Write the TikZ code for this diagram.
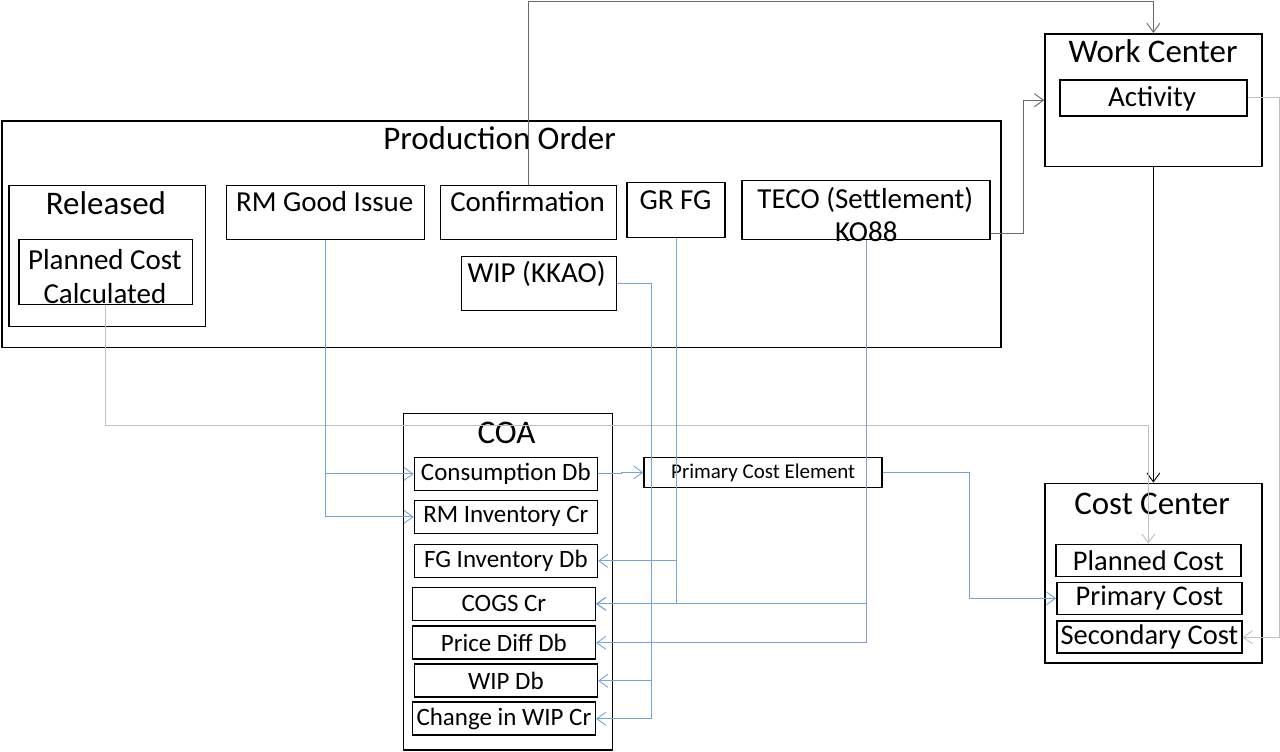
\documentclass[tikz,border=0pt]{standalone}
\usepackage{fontspec}
\setmainfont{Carlito}
\usetikzlibrary{arrows.meta}
\definecolor{flowblue}{RGB}{118,164,216}
\definecolor{flowgray}{RGB}{105,105,105}
\definecolor{flowlight}{RGB}{192,192,192}
\begin{document}
\begin{tikzpicture}[x=1pt, y=-1pt,
    box/.style={draw, line width=1.6pt, inner sep=0pt, anchor=north west},
    head/.style={anchor=base, inner sep=0pt, font=\fontsize{33}{38}\selectfont},
    lbl/.style={anchor=base, inner sep=0pt, font=\fontsize{29}{34}\selectfont},
    coaitem/.style={box, font=\fontsize{25}{30}\selectfont},
    ccitem/.style={box, font=\fontsize{28.5}{32}\selectfont},
    link/.style={line width=0.9pt, -{Straight Barb[length=9pt, width=13pt]}},
    bluelink/.style={link, draw=flowblue},
    graylink/.style={link, draw=flowgray},
    lightlink/.style={link, draw=flowlight}]
    \fill[white] (0,0) rectangle (1280,752);
    \node[box, minimum width=1000pt, minimum height=227pt] (prod) at (1,120) {};
    \node[head] (prodtitle) at (500,150) {Production Order};
    \node[box, minimum width=197pt, minimum height=141pt] (rel) at (8,185) {};
    \node[head] (reltitle) at (106,215) {Released};
    \node[box, minimum width=174pt, minimum height=65pt] (pcc) at (18,239) {};
    \node[lbl, anchor=center, align=center] (pcctext) at (105,277) {Planned Cost\\Calculated};
    \node[box, minimum width=198pt, minimum height=54pt] (rmgi) at (226,185) {};
    \node[lbl] (rmgitext) at (325,212) {RM Good Issue};
    \node[box, minimum width=176pt, minimum height=54pt] (conf) at (440,185) {};
    \node[lbl] (conftext) at (528,212) {Confirmation};
    \node[box, minimum width=98pt, minimum height=55pt] (grfg) at (627,182) {};
    \node[lbl] (grfgtext) at (676,210) {GR FG};
    \node[box, minimum width=248pt, minimum height=59pt] (teco) at (742,180) {};
    \node[lbl] (tecotext) at (866,209) {TECO (Settlement)};
    \node[lbl] (kotext) at (867,242) {KO88};
    \node[box, minimum width=155pt, minimum height=54pt] (wip) at (461,256) {};
    \node[lbl] (wiptext) at (537,283) {WIP (KKAO)};

    \node[box, minimum width=217pt, minimum height=133pt] (wc) at (1045,33) {};
    \node[head] (wctitle) at (1154,63) {Work Center};
    \node[box, minimum width=187pt, minimum height=36pt] (act) at (1060,79) {};
    \node[lbl] (acttext) at (1153,107) {Activity};

    \node[box, minimum width=217pt, minimum height=180pt] (cc) at (1045,483) {};
    \node[head] (cctitle) at (1153,515) {Cost Center};
    \foreach \nm/\xl/\yt/\txt in {plcost/1056/544/Planned Cost, prcost/1057/582/Primary Cost, seccost/1057/621/Secondary Cost}
        \node[ccitem, minimum width=185pt, minimum height=32pt] (\nm) at (\xl,\yt) {\txt};

    \node[box, minimum width=209pt, minimum height=337pt] (coa) at (403,413) {};
    \node[head] (coatitle) at (507,444) {COA};
    \foreach \nm/\xl/\yt/\txt in {cons/414/457/Consumption Db, rminv/414/500/RM Inventory Cr, fginv/414/544/FG Inventory Db, cogs/412/587/COGS Cr, pdiff/412/626/Price Diff Db, wipdb/414/664/WIP Db, chwip/412/702/Change in WIP Cr}
        \node[coaitem, minimum width=183pt, minimum height=33pt] (\nm) at (\xl,\yt) {\txt};
    \node[box, minimum width=238pt, minimum height=30pt, font=\fontsize{21}{25}\selectfont] (pce) at (644,457) {Primary Cost Element};

    \draw[graylink] (conf.north) -- ++(0,-184) -| (wc.north);
    \draw[graylink] ([yshift=-23.5pt]teco.east) -- ++(33,0) |- (wc.west);
    \draw[lightlink] (act.east) -- ++(32,0) |- (seccost.east);
    \draw[link, draw=black] (wc.south) -- (cc.north);
    \draw[lightlink] (pcc.south) -- ++(0,120) -| (plcost.north);
    \draw[bluelink] (rmgi.south) |- (cons.west);
    \draw[bluelink] (rmgi.south) |- (rminv.west);
    \draw[bluelink] (cons.east) -- ++(23,0) |- (pce.west);
    \draw[bluelink] (pce.east) -- ++(87,0) |- (prcost.west);
    \draw[bluelink] (grfg.south) |- (fginv.east);
    \draw[bluelink] (grfg.south) |- (cogs.east);
    \draw[bluelink] (teco.south) |- (cogs.east);
    \draw[bluelink] (teco.south) |- (pdiff.east);
    \draw[bluelink] (wip.east) -- ++(34,0) |- (wipdb.east);
    \draw[bluelink] (wip.east) -- ++(34,0) |- (chwip.east);
\end{tikzpicture}
\end{document}
